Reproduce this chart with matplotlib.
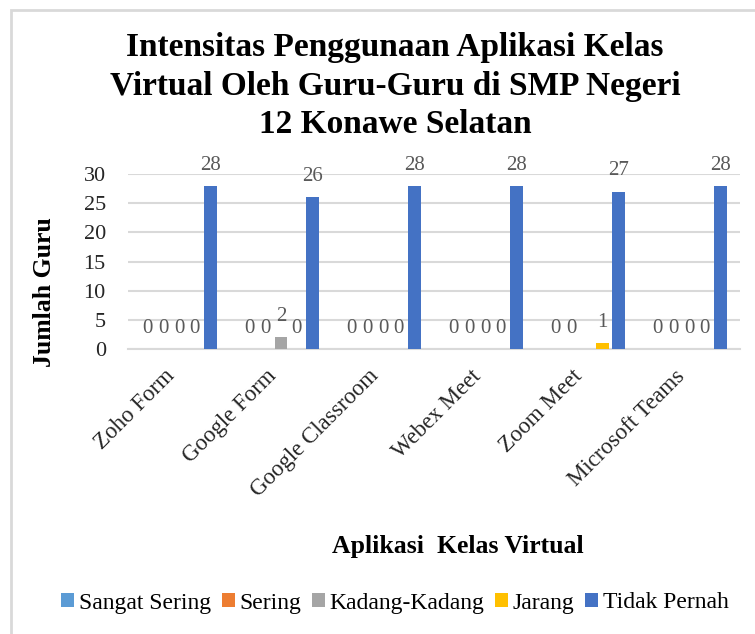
import numpy as np
import matplotlib.pyplot as plt
from matplotlib.patches import Rectangle

# data
apps = ['Zoho Form', 'Google Form', 'Google Classroom', 'Webex Meet',
        'Zoom Meet', 'Microsoft Teams']
series = ['Sangat Sering', 'Sering', 'Kadang-Kadang', 'Jarang', 'Tidak Pernah']
sangat_sering = [0, 0, 0, 0, 0, 0]
sering = [0, 0, 0, 0, 0, 0]
kadang = [0, 2, 0, 0, 0, 0]
jarang = [0, 0, 0, 0, 1, 0]
tidak_pernah = [28, 26, 28, 28, 27, 28]
values = [sangat_sering, sering, kadang, jarang, tidak_pernah]
colors = ['#5B9BD5', '#ED7D31', '#A5A5A5', '#FFC000', '#4472C4']
# label hidden behind the "1" in the original chart
hidden = {('Kadang-Kadang', 'Zoom Meet')}

plt.rcParams['font.family'] = ['Liberation Serif', 'DejaVu Serif']

fig = plt.figure(figsize=(7.55, 6.34), dpi=100)
ax = fig.add_axes([0.1695, 0.4495, 0.8106, 0.276])

x = np.arange(len(apps))
step = 0.155
bw = 0.125
for i, (name, vals) in enumerate(zip(series, values)):
    pos = x + (i - 2) * step
    ax.bar(pos, vals, width=bw, color=colors[i], label=name, zorder=3)
    for app, xp, v in zip(apps, pos, vals):
        if (name, app) in hidden:
            continue
        ax.annotate(str(v), (xp, v), xytext=(0, 8), textcoords='offset points',
                    ha='center', va='bottom', fontsize=15, color='#595959')

ax.set_xlim(-0.5, len(apps) - 0.5)
ax.set_ylim(0, 30)
ax.set_yticks([0, 5, 10, 15, 20, 25, 30])
ax.grid(axis='y', color='#D9D9D9', linewidth=1.5, zorder=0)
for s in ['top', 'right', 'left']:
    ax.spines[s].set_visible(False)
ax.spines['bottom'].set_color('#D9D9D9')
ax.spines['bottom'].set_linewidth(1.5)
ax.tick_params(length=0, colors='#262626')
ax.tick_params(axis='y', labelsize=16, pad=16)
ax.set_xticks(x)
ax.set_xticklabels(apps, rotation=45, ha='right', va='top')
ax.tick_params(axis='x', labelsize=16.5, pad=12)

fig.text(45 / 755, 1 - 292 / 634, 'Jumlah Guru', fontsize=18.5,
         fontweight='bold', rotation=90, ha='center', va='center')
fig.text(458 / 755, 1 - 547 / 634, 'Aplikasi  Kelas Virtual', fontsize=18.5,
         fontweight='bold', ha='center', va='center')

fig.text(395 / 755, 1 - 86 / 634,
         'Intensitas Penggunaan Aplikasi Kelas\nVirtual Oleh Guru-Guru di SMP Negeri\n12 Konawe Selatan',
         fontsize=24, fontweight='bold', ha='center', va='center', linespacing=1.32)

fig.legend(loc='center', bbox_to_anchor=(395 / 755, 1 - 603 / 634), ncol=5,
           frameon=False, fontsize=17, handlelength=0.55, handleheight=0.55,
           handletextpad=0.2, columnspacing=0.45)

fig.patches.append(Rectangle((11 / 755, -0.1), 1.2, 1.1 - 10 / 634,
                             transform=fig.transFigure, fill=False,
                             edgecolor='#D9D9D9', linewidth=2))

fig.savefig('out.png', dpi=100)
